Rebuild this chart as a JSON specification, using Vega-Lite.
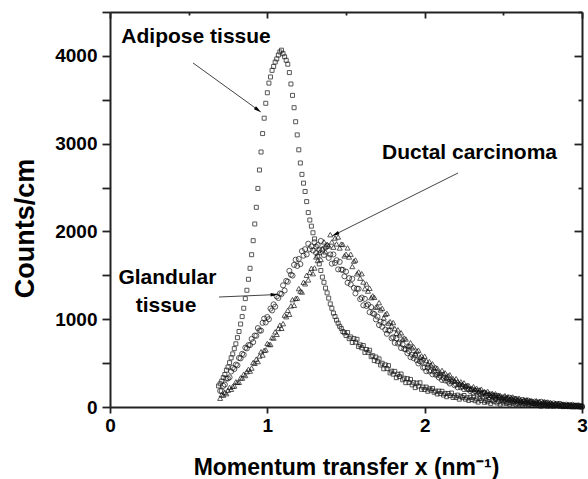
{
"$schema":"https://vega.github.io/schema/vega-lite/v6.json",
"width":472,"height":395,"autosize":"none",
"padding":{"left":110,"top":12,"right":6,"bottom":72},
"background":"white",
"config":{"view":{"stroke":null},"font":"Liberation Sans",
"axis":{"domainColor":"#222","domainWidth":2,"tickColor":"#222","tickWidth":1.8,"grid":false,"labelFont":"Liberation Sans","labelFontWeight":"bold","labelColor":"#000","labelFontSize":19,"titleFont":"Liberation Sans","titleFontWeight":"bold","titleColor":"#000","labelOverlap":false,"labelFlush":false}},
"datasets":{
"adipose":[
{"x":0.69,"y":240},{"x":0.70,"y":265},{"x":0.71,"y":295},{"x":0.72,"y":335},{"x":0.73,"y":370},{"x":0.74,"y":420},{"x":0.75,"y":455},{"x":0.76,"y":505},{"x":0.77,"y":560},{"x":0.78,"y":605},{"x":0.79,"y":665},{"x":0.80,"y":720},{"x":0.81,"y":790},{"x":0.82,"y":860},{"x":0.83,"y":945},{"x":0.84,"y":1030},{"x":0.85,"y":1125},{"x":0.86,"y":1235},{"x":0.87,"y":1330},{"x":0.88,"y":1455},{"x":0.89,"y":1580},{"x":0.90,"y":1735},{"x":0.91,"y":1895},{"x":0.92,"y":2085},{"x":0.93,"y":2275},{"x":0.94,"y":2490},{"x":0.95,"y":2700},{"x":0.96,"y":2905},{"x":0.97,"y":3115},{"x":0.98,"y":3290},{"x":0.99,"y":3460},{"x":1.00,"y":3580},{"x":1.01,"y":3690},{"x":1.02,"y":3760},{"x":1.03,"y":3835},{"x":1.04,"y":3880},{"x":1.05,"y":3930},{"x":1.06,"y":3965},{"x":1.07,"y":4010},{"x":1.08,"y":4045},{"x":1.09,"y":4065},{"x":1.10,"y":4025},{"x":1.11,"y":3990},{"x":1.12,"y":3950},{"x":1.13,"y":3905},{"x":1.14,"y":3810},{"x":1.15,"y":3680},{"x":1.16,"y":3550},{"x":1.17,"y":3410},{"x":1.18,"y":3250},{"x":1.19,"y":3100},{"x":1.20,"y":2930},{"x":1.21,"y":2780},{"x":1.22,"y":2650},{"x":1.23,"y":2550},{"x":1.24,"y":2455},{"x":1.25,"y":2340},{"x":1.26,"y":2215},{"x":1.27,"y":2130},{"x":1.28,"y":2060},{"x":1.29,"y":1985},{"x":1.30,"y":1915},{"x":1.31,"y":1825},{"x":1.32,"y":1720},{"x":1.33,"y":1630},{"x":1.34,"y":1555},{"x":1.35,"y":1480},{"x":1.36,"y":1420},{"x":1.37,"y":1355},{"x":1.38,"y":1300},{"x":1.39,"y":1240},{"x":1.40,"y":1175},{"x":1.41,"y":1125},{"x":1.42,"y":1070},{"x":1.43,"y":1030},{"x":1.44,"y":990},{"x":1.45,"y":955},{"x":1.46,"y":920},{"x":1.47,"y":895},{"x":1.48,"y":860},{"x":1.49,"y":845},{"x":1.50,"y":815},
{"x":1.51,"y":848},{"x":1.52,"y":779},{"x":1.53,"y":798},{"x":1.54,"y":735},{"x":1.55,"y":780},{"x":1.56,"y":739},{"x":1.57,"y":771},{"x":1.58,"y":689},{"x":1.59,"y":708},{"x":1.60,"y":674},{"x":1.61,"y":700},{"x":1.62,"y":622},{"x":1.63,"y":655},{"x":1.64,"y":623},{"x":1.65,"y":646},{"x":1.66,"y":574},{"x":1.67,"y":585},{"x":1.68,"y":529},{"x":1.69,"y":569},{"x":1.70,"y":520},{"x":1.71,"y":548},{"x":1.72,"y":479},{"x":1.73,"y":498},{"x":1.74,"y":435},{"x":1.75,"y":480},{"x":1.76,"y":439},{"x":1.77,"y":471},{"x":1.78,"y":389},{"x":1.79,"y":408},{"x":1.80,"y":374},{"x":1.81,"y":406},{"x":1.82,"y":334},{"x":1.83,"y":373},{"x":1.84,"y":347},{"x":1.85,"y":376},{"x":1.86,"y":310},{"x":1.87,"y":327},{"x":1.88,"y":277},{"x":1.89,"y":323},{"x":1.90,"y":280},{"x":1.91,"y":314},{"x":1.92,"y":252},{"x":1.93,"y":277},{"x":1.94,"y":221},{"x":1.95,"y":272},{"x":1.96,"y":238},{"x":1.97,"y":276},{"x":1.98,"y":201},{"x":1.99,"y":226},{"x":2.00,"y":199},
{"x":2.01,"y":227},{"x":2.02,"y":179},{"x":2.03,"y":207},{"x":2.04,"y":191},{"x":2.05,"y":212},{"x":2.06,"y":168},{"x":2.07,"y":181},{"x":2.08,"y":148},{"x":2.09,"y":181},{"x":2.10,"y":153},{"x":2.11,"y":179},{"x":2.12,"y":136},{"x":2.13,"y":155},{"x":2.14,"y":117},{"x":2.15,"y":154},{"x":2.16,"y":131},{"x":2.17,"y":159},{"x":2.18,"y":108},{"x":2.19,"y":127},{"x":2.20,"y":109},{"x":2.21,"y":135},{"x":2.22,"y":89},{"x":2.23,"y":121},{"x":2.24,"y":107},{"x":2.25,"y":131},{"x":2.26,"y":89},{"x":2.27,"y":105},{"x":2.28,"y":75},{"x":2.29,"y":111},{"x":2.30,"y":85},{"x":2.31,"y":112},{"x":2.32,"y":72},{"x":2.33,"y":92},{"x":2.34,"y":56},{"x":2.35,"y":95},{"x":2.36,"y":74},{"x":2.37,"y":104},{"x":2.38,"y":54},{"x":2.39,"y":75},{"x":2.40,"y":59},{"x":2.41,"y":86},{"x":2.42,"y":41},{"x":2.43,"y":74},{"x":2.44,"y":61},{"x":2.45,"y":86},{"x":2.46,"y":46},{"x":2.47,"y":63},{"x":2.48,"y":33},{"x":2.49,"y":71},{"x":2.50,"y":46},
{"x":2.51,"y":64},{"x":2.52,"y":41},{"x":2.53,"y":53},{"x":2.54,"y":33},{"x":2.55,"y":54},{"x":2.56,"y":42},{"x":2.57,"y":59},{"x":2.58,"y":31},{"x":2.59,"y":43},{"x":2.60,"y":34},{"x":2.61,"y":49},{"x":2.62,"y":24},{"x":2.63,"y":41},{"x":2.64,"y":34},{"x":2.65,"y":48},{"x":2.66,"y":25},{"x":2.67,"y":35},{"x":2.68,"y":17},{"x":2.69,"y":38},{"x":2.70,"y":24},{"x":2.71,"y":39},{"x":2.72,"y":17},{"x":2.73,"y":29},{"x":2.74,"y":9},{"x":2.75,"y":31},{"x":2.76,"y":19},{"x":2.77,"y":36},{"x":2.78,"y":9},{"x":2.79,"y":21},{"x":2.80,"y":12},{"x":2.81,"y":23},{"x":2.82,"y":8},{"x":2.83,"y":19},{"x":2.84,"y":14},{"x":2.85,"y":22},{"x":2.86,"y":8},{"x":2.87,"y":14},{"x":2.88,"y":4},{"x":2.89,"y":16},{"x":2.90,"y":8},{"x":2.91,"y":18},{"x":2.92,"y":4},{"x":2.93,"y":11},{"x":2.94,"y":2},{"x":2.95,"y":13},{"x":2.96,"y":5},{"x":2.97,"y":16},{"x":2.98,"y":1},{"x":2.99,"y":7},{"x":3.00,"y":1}],
"glandular":[
{"x":0.70,"y":183},{"x":0.71,"y":183},{"x":0.72,"y":241},{"x":0.73,"y":256},{"x":0.74,"y":323},{"x":0.75,"y":325},{"x":0.76,"y":338},{"x":0.77,"y":404},{"x":0.78,"y":446},{"x":0.79,"y":432},{"x":0.80,"y":483},{"x":0.81,"y":475},{"x":0.82,"y":559},{"x":0.83,"y":554},{"x":0.84,"y":606},{"x":0.85,"y":595},{"x":0.86,"y":676},{"x":0.87,"y":668},{"x":0.88,"y":706},{"x":0.89,"y":705},{"x":0.90,"y":775},{"x":0.91,"y":739},{"x":0.92,"y":814},{"x":0.93,"y":811},{"x":0.94,"y":899},{"x":0.95,"y":871},{"x":0.96,"y":870},{"x":0.97,"y":959},{"x":0.98,"y":1007},{"x":0.99,"y":963},{"x":1.00,"y":1025},{"x":1.01,"y":1000},{"x":1.02,"y":1121},{"x":1.03,"y":1100},{"x":1.04,"y":1169},{"x":1.05,"y":1143},{"x":1.06,"y":1260},{"x":1.07,"y":1242},{"x":1.08,"y":1294},{"x":1.09,"y":1287},{"x":1.10,"y":1386},{"x":1.11,"y":1327},{"x":1.12,"y":1437},{"x":1.13,"y":1427},{"x":1.14,"y":1551},{"x":1.15,"y":1507},{"x":1.16,"y":1497},{"x":1.17,"y":1619},{"x":1.18,"y":1678},{"x":1.19,"y":1607},{"x":1.20,"y":1687},{"x":1.21,"y":1628},{"x":1.22,"y":1776},{"x":1.23,"y":1724},{"x":1.24,"y":1798},{"x":1.25,"y":1738},{"x":1.26,"y":1860},{"x":1.27,"y":1798},{"x":1.28,"y":1830},{"x":1.29,"y":1783},{"x":1.30,"y":1877},{"x":1.31,"y":1756},{"x":1.32,"y":1845},{"x":1.33,"y":1787},{"x":1.34,"y":1892},{"x":1.35,"y":1794},{"x":1.36,"y":1732},{"x":1.37,"y":1817},{"x":1.38,"y":1832},{"x":1.39,"y":1699},{"x":1.40,"y":1738},{"x":1.41,"y":1633},{"x":1.42,"y":1738},{"x":1.43,"y":1642},{"x":1.44,"y":1672},{"x":1.45,"y":1568},{"x":1.46,"y":1653},{"x":1.47,"y":1565},{"x":1.48,"y":1562},{"x":1.49,"y":1489},{"x":1.50,"y":1542},{"x":1.51,"y":1415},{"x":1.52,"y":1468},{"x":1.53,"y":1396},{"x":1.54,"y":1460},{"x":1.55,"y":1357},{"x":1.56,"y":1294},{"x":1.57,"y":1349},{"x":1.58,"y":1347},{"x":1.59,"y":1229},{"x":1.60,"y":1246},{"x":1.61,"y":1159},{"x":1.62,"y":1232},{"x":1.63,"y":1151},{"x":1.64,"y":1167},{"x":1.65,"y":1080},{"x":1.66,"y":1138},{"x":1.67,"y":1067},{"x":1.68,"y":1059},{"x":1.69,"y":998},{"x":1.70,"y":1030},{"x":1.71,"y":934},{"x":1.72,"y":971},{"x":1.73,"y":914},{"x":1.74,"y":959},{"x":1.75,"y":881},{"x":1.76,"y":834},{"x":1.77,"y":872},{"x":1.78,"y":870},{"x":1.79,"y":783},{"x":1.80,"y":794},{"x":1.81,"y":730},{"x":1.82,"y":783},{"x":1.83,"y":723},{"x":1.84,"y":734},{"x":1.85,"y":672},{"x":1.86,"y":714},{"x":1.87,"y":662},{"x":1.88,"y":657},{"x":1.89,"y":613},{"x":1.90,"y":637},{"x":1.91,"y":568},{"x":1.92,"y":596},{"x":1.93,"y":556},{"x":1.94,"y":589},{"x":1.95,"y":533},{"x":1.96,"y":496},{"x":1.97,"y":520},{"x":1.98,"y":515},{"x":1.99,"y":449},{"x":2.00,"y":453},{"x":2.01,"y":408},{"x":2.02,"y":448},{"x":2.03,"y":406},{"x":2.04,"y":416},{"x":2.05,"y":372},{"x":2.06,"y":404},{"x":2.07,"y":368},{"x":2.08,"y":367},{"x":2.09,"y":336},{"x":2.10,"y":356},{"x":2.11,"y":308},{"x":2.12,"y":330},{"x":2.13,"y":302},{"x":2.14,"y":328},{"x":2.15,"y":289},{"x":2.16,"y":267},{"x":2.17,"y":290},{"x":2.18,"y":292},{"x":2.19,"y":248},{"x":2.20,"y":256},{"x":2.21,"y":224},{"x":2.22,"y":256},{"x":2.23,"y":225},{"x":2.24,"y":234},{"x":2.25,"y":203},{"x":2.26,"y":229},{"x":2.27,"y":204},{"x":2.28,"y":203},{"x":2.29,"y":182},{"x":2.30,"y":200},{"x":2.31,"y":163},{"x":2.32,"y":182},{"x":2.33,"y":163},{"x":2.34,"y":185},{"x":2.35,"y":156},{"x":2.36,"y":139},{"x":2.37,"y":161},{"x":2.38,"y":164},{"x":2.39,"y":130},{"x":2.40,"y":139},{"x":2.41,"y":114},{"x":2.42,"y":142},{"x":2.43,"y":119},{"x":2.44,"y":129},{"x":2.45,"y":104},{"x":2.46,"y":128},{"x":2.47,"y":108},{"x":2.48,"y":111},{"x":2.49,"y":94},{"x":2.50,"y":111},{"x":2.51,"y":81},{"x":2.52,"y":99},{"x":2.53,"y":84},{"x":2.54,"y":106},{"x":2.55,"y":81},{"x":2.56,"y":68},{"x":2.57,"y":89},{"x":2.58,"y":92},{"x":2.59,"y":65},{"x":2.60,"y":74},{"x":2.61,"y":53},{"x":2.62,"y":80},{"x":2.63,"y":60},{"x":2.64,"y":70},{"x":2.65,"y":49},{"x":2.66,"y":72},{"x":2.67,"y":55},{"x":2.68,"y":58},{"x":2.69,"y":45},{"x":2.70,"y":61},{"x":2.71,"y":35},{"x":2.72,"y":52},{"x":2.73,"y":40},{"x":2.74,"y":60},{"x":2.75,"y":39},{"x":2.76,"y":28},{"x":2.77,"y":47},{"x":2.78,"y":50},{"x":2.79,"y":27},{"x":2.80,"y":36},{"x":2.81,"y":19},{"x":2.82,"y":41},{"x":2.83,"y":26},{"x":2.84,"y":34},{"x":2.85,"y":17},{"x":2.86,"y":36},{"x":2.87,"y":23},{"x":2.88,"y":26},{"x":2.89,"y":15},{"x":2.90,"y":27},{"x":2.91,"y":9},{"x":2.92,"y":21},{"x":2.93,"y":12},{"x":2.94,"y":25},{"x":2.95,"y":12},{"x":2.96,"y":6},{"x":2.97,"y":16},{"x":2.98,"y":17},{"x":2.99,"y":4},{"x":3.00,"y":9}],
"ductal":[
{"x":0.70,"y":100},{"x":0.71,"y":140},{"x":0.72,"y":136},{"x":0.73,"y":167},{"x":0.74,"y":152},{"x":0.75,"y":191},{"x":0.76,"y":223},{"x":0.77,"y":202},{"x":0.78,"y":235},{"x":0.79,"y":240},{"x":0.80,"y":287},{"x":0.81,"y":281},{"x":0.82,"y":281},{"x":0.83,"y":332},{"x":0.84,"y":329},{"x":0.85,"y":374},{"x":0.86,"y":359},{"x":0.87,"y":403},{"x":0.88,"y":430},{"x":0.89,"y":409},{"x":0.90,"y":444},{"x":0.91,"y":507},{"x":0.92,"y":498},{"x":0.93,"y":546},{"x":0.94,"y":518},{"x":0.95,"y":581},{"x":0.96,"y":630},{"x":0.97,"y":592},{"x":0.98,"y":646},{"x":0.99,"y":651},{"x":1.00,"y":725},{"x":1.01,"y":713},{"x":1.02,"y":712},{"x":1.03,"y":791},{"x":1.04,"y":786},{"x":1.05,"y":856},{"x":1.06,"y":828},{"x":1.07,"y":894},{"x":1.08,"y":933},{"x":1.09,"y":897},{"x":1.10,"y":950},{"x":1.11,"y":1047},{"x":1.12,"y":1029},{"x":1.13,"y":1102},{"x":1.14,"y":1056},{"x":1.15,"y":1152},{"x":1.16,"y":1223},{"x":1.17,"y":1159},{"x":1.18,"y":1237},{"x":1.19,"y":1240},{"x":1.20,"y":1349},{"x":1.21,"y":1321},{"x":1.22,"y":1310},{"x":1.23,"y":1422},{"x":1.24,"y":1404},{"x":1.25,"y":1501},{"x":1.26,"y":1448},{"x":1.27,"y":1534},{"x":1.28,"y":1581},{"x":1.29,"y":1519},{"x":1.30,"y":1584},{"x":1.31,"y":1710},{"x":1.32,"y":1669},{"x":1.33,"y":1760},{"x":1.34,"y":1681},{"x":1.35,"y":1803},{"x":1.36,"y":1881},{"x":1.37,"y":1768},{"x":1.38,"y":1854},{"x":1.39,"y":1836},{"x":1.40,"y":1963},{"x":1.41,"y":1880},{"x":1.42,"y":1821},{"x":1.43,"y":1925},{"x":1.44,"y":1858},{"x":1.45,"y":1937},{"x":1.46,"y":1812},{"x":1.47,"y":1856},{"x":1.48,"y":1852},{"x":1.49,"y":1722},{"x":1.50,"y":1741},{"x":1.51,"y":1813},{"x":1.52,"y":1709},{"x":1.53,"y":1741},{"x":1.54,"y":1601},{"x":1.55,"y":1662},{"x":1.56,"y":1675},{"x":1.57,"y":1518},{"x":1.58,"y":1539},{"x":1.59,"y":1468},{"x":1.60,"y":1519},{"x":1.61,"y":1424},{"x":1.62,"y":1348},{"x":1.63,"y":1402},{"x":1.64,"y":1321},{"x":1.65,"y":1353},{"x":1.66,"y":1246},{"x":1.67,"y":1266},{"x":1.68,"y":1250},{"x":1.69,"y":1138},{"x":1.70,"y":1142},{"x":1.71,"y":1189},{"x":1.72,"y":1107},{"x":1.73,"y":1125},{"x":1.74,"y":1016},{"x":1.75,"y":1055},{"x":1.76,"y":1067},{"x":1.77,"y":956},{"x":1.78,"y":973},{"x":1.79,"y":924},{"x":1.80,"y":962},{"x":1.81,"y":894},{"x":1.82,"y":840},{"x":1.83,"y":880},{"x":1.84,"y":822},{"x":1.85,"y":846},{"x":1.86,"y":770},{"x":1.87,"y":786},{"x":1.88,"y":775},{"x":1.89,"y":696},{"x":1.90,"y":700},{"x":1.91,"y":733},{"x":1.92,"y":674},{"x":1.93,"y":687},{"x":1.94,"y":608},{"x":1.95,"y":636},{"x":1.96,"y":647},{"x":1.97,"y":568},{"x":1.98,"y":583},{"x":1.99,"y":548},{"x":2.00,"y":579},{"x":2.01,"y":529},{"x":2.02,"y":490},{"x":2.03,"y":518},{"x":2.04,"y":476},{"x":2.05,"y":492},{"x":2.06,"y":438},{"x":2.07,"y":450},{"x":2.08,"y":443},{"x":2.09,"y":388},{"x":2.10,"y":391},{"x":2.11,"y":417},{"x":2.12,"y":377},{"x":2.13,"y":389},{"x":2.14,"y":335},{"x":2.15,"y":358},{"x":2.16,"y":367},{"x":2.17,"y":311},{"x":2.18,"y":323},{"x":2.19,"y":299},{"x":2.20,"y":323},{"x":2.21,"y":289},{"x":2.22,"y":263},{"x":2.23,"y":287},{"x":2.24,"y":259},{"x":2.25,"y":275},{"x":2.26,"y":236},{"x":2.27,"y":248},{"x":2.28,"y":245},{"x":2.29,"y":205},{"x":2.30,"y":209},{"x":2.31,"y":232},{"x":2.32,"y":202},{"x":2.33,"y":214},{"x":2.34,"y":174},{"x":2.35,"y":195},{"x":2.36,"y":203},{"x":2.37,"y":162},{"x":2.38,"y":173},{"x":2.39,"y":158},{"x":2.40,"y":179},{"x":2.41,"y":153},{"x":2.42,"y":135},{"x":2.43,"y":156},{"x":2.44,"y":136},{"x":2.45,"y":151},{"x":2.46,"y":121},{"x":2.47,"y":133},{"x":2.48,"y":133},{"x":2.49,"y":102},{"x":2.50,"y":107},{"x":2.51,"y":129},{"x":2.52,"y":106},{"x":2.53,"y":118},{"x":2.54,"y":86},{"x":2.55,"y":105},{"x":2.56,"y":115},{"x":2.57,"y":81},{"x":2.58,"y":93},{"x":2.59,"y":81},{"x":2.60,"y":101},{"x":2.61,"y":80},{"x":2.62,"y":66},{"x":2.63,"y":86},{"x":2.64,"y":70},{"x":2.65,"y":84},{"x":2.66,"y":60},{"x":2.67,"y":70},{"x":2.68,"y":72},{"x":2.69,"y":45},{"x":2.70,"y":52},{"x":2.71,"y":71},{"x":2.72,"y":53},{"x":2.73,"y":63},{"x":2.74,"y":36},{"x":2.75,"y":54},{"x":2.76,"y":63},{"x":2.77,"y":34},{"x":2.78,"y":45},{"x":2.79,"y":35},{"x":2.80,"y":53},{"x":2.81,"y":35},{"x":2.82,"y":22},{"x":2.83,"y":42},{"x":2.84,"y":27},{"x":2.85,"y":41},{"x":2.86,"y":19},{"x":2.87,"y":30},{"x":2.88,"y":31},{"x":2.89,"y":10},{"x":2.90,"y":16},{"x":2.91,"y":31},{"x":2.92,"y":17},{"x":2.93,"y":25},{"x":2.94,"y":6},{"x":2.95,"y":18},{"x":2.96,"y":23},{"x":2.97,"y":7},{"x":2.98,"y":12},{"x":2.99,"y":6},{"x":3.00,"y":16}],
"labels":[
{"label":"Adipose tissue","x":0.547,"y":4143},
{"label":"Ductal carcinoma","x":2.285,"y":2825},
{"label":"Glandular","x":0.365,"y":1401},
{"label":"tissue","x":0.356,"y":1086}],
"arrows":[
{"name":"adipose","x":0.528,"y":3919,"x2":0.942,"y2":3383},
{"name":"ductal","x":2.212,"y":2666,"x2":1.431,"y2":1966},
{"name":"glandular","x":0.693,"y":1253,"x2":1.046,"y2":1280}]
},
"layer":[
{"data":{"name":"adipose"},
"mark":{"type":"point","shape":"square","filled":false,"size":16,"stroke":"#111","strokeWidth":1},
"encoding":{
"x":{"field":"x","type":"quantitative","scale":{"domain":[0,3],"nice":false,"zero":false},
"axis":{"orient":"bottom","domainColor":"#222","domainWidth":2,"tickColor":"#222","values":[0,0.5,1,1.5,2,2.5,3],"format":"d","labelExpr":"datum.value % 1 === 0 ? datum.label : ''","tickSize":{"condition":{"test":"datum.value % 1 === 0","value":6},"value":4},"labelPadding":3,"title":"Momentum transfer x (nm⁻¹)","titleFontSize":23,"titleY":67,"titleBaseline":"alphabetic"}},
"y":{"field":"y","type":"quantitative","scale":{"domain":[0,4500],"nice":false},
"axis":{"orient":"left","domainColor":"#222","domainWidth":2,"tickColor":"#222","values":[0,500,1000,1500,2000,2500,3000,3500,4000,4500],"format":"d","labelExpr":"datum.value % 1000 === 0 ? datum.label : ''","tickSize":8,"labelPadding":5,"title":"Counts/cm","titleFontSize":27,"titleAngle":-90,"titleX":-77,"titleY":216,"titleBaseline":"alphabetic","titleAlign":"center"}}}},
{"data":{"name":"glandular"},
"mark":{"type":"point","shape":"circle","filled":false,"size":26,"stroke":"#111","strokeWidth":1},
"encoding":{"x":{"field":"x","type":"quantitative","axis":null},"y":{"field":"y","type":"quantitative","axis":null}}},
{"data":{"name":"ductal"},
"mark":{"type":"point","shape":"triangle-up","filled":false,"size":26,"stroke":"#111","strokeWidth":1},
"encoding":{
"x":{"field":"x","type":"quantitative","axis":{"orient":"top","domainColor":"#222","domainWidth":2,"tickColor":"#222","values":[0,0.5,1,1.5,2,2.5,3],"labels":false,"tickSize":{"condition":{"test":"datum.value % 1 === 0","value":-6},"value":-3},"title":null}},
"y":{"field":"y","type":"quantitative","axis":{"orient":"right","domainColor":"#222","domainWidth":2,"tickColor":"#222","values":[0,500,1000,1500,2000,2500,3000,3500,4000,4500],"labels":false,"tickSize":{"condition":{"test":"datum.value % 1000 === 0","value":-8},"value":-4},"title":null}}}},
{"data":{"name":"arrows"},
"mark":{"type":"rule","stroke":"#444","strokeWidth":1},
"encoding":{"x":{"field":"x","type":"quantitative","axis":null},"y":{"field":"y","type":"quantitative","axis":null},"x2":{"field":"x2"},"y2":{"field":"y2"}}},
{"data":{"name":"arrows"},"transform":[{"filter":"datum.name === 'adipose'"}],
"mark":{"type":"point","shape":"M0,-1L0.45,1L-0.45,1Z","filled":true,"fill":"#000","size":64,"angle":126,"opacity":1},
"encoding":{"x":{"field":"x2","type":"quantitative","axis":null},"y":{"field":"y2","type":"quantitative","axis":null}}},
{"data":{"name":"arrows"},"transform":[{"filter":"datum.name === 'ductal'"}],
"mark":{"type":"point","shape":"M0,-1L0.45,1L-0.45,1Z","filled":true,"fill":"#000","size":64,"angle":243,"opacity":1},
"encoding":{"x":{"field":"x2","type":"quantitative","axis":null},"y":{"field":"y2","type":"quantitative","axis":null}}},
{"data":{"name":"arrows"},"transform":[{"filter":"datum.name === 'glandular'"}],
"mark":{"type":"point","shape":"M0,-1L0.45,1L-0.45,1Z","filled":true,"fill":"#000","size":64,"angle":88,"opacity":1},
"encoding":{"x":{"field":"x2","type":"quantitative","axis":null},"y":{"field":"y2","type":"quantitative","axis":null}}},
{"data":{"name":"labels"},
"mark":{"type":"text","font":"Liberation Sans","fontWeight":"bold","fontSize":21,"color":"#000","align":"center","baseline":"alphabetic"},
"encoding":{"x":{"field":"x","type":"quantitative","axis":null},"y":{"field":"y","type":"quantitative","axis":null},"text":{"field":"label"}}}
],
"resolve":{"axis":{"x":"independent","y":"independent"}}
}
